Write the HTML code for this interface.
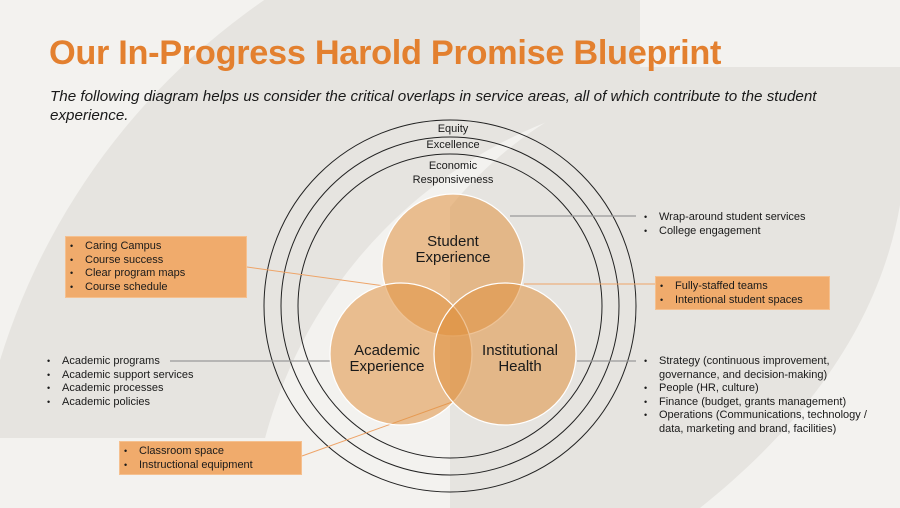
<!DOCTYPE html>
<html><head><meta charset="utf-8"><style>
html,body{margin:0;padding:0}
body{width:900px;height:508px;overflow:hidden;position:relative;background:#f3f2ef;font-family:"Liberation Sans",sans-serif;color:#1a1a1a}
svg{position:absolute;left:0;top:0}
.t{position:absolute;white-space:nowrap}
ul{margin:0;padding:0;list-style:none}
li{position:relative;padding-left:19px;font-size:11px;line-height:13.6px}
li:before{content:"•";position:absolute;left:4px;top:0;font-size:9px}
.box{position:absolute;background:#f0ab6c;border:1px solid #f5c08f;box-sizing:border-box}
</style></head><body>
<svg width="900" height="508" viewBox="0 0 900 508">
<defs>
<clipPath id="ca"><rect x="0" y="0" width="640" height="438"/></clipPath>
<clipPath id="cb2"><rect x="450" y="67" width="450" height="441"/></clipPath>
</defs>
<circle cx="650" cy="560" r="680" fill="#e6e4e0" clip-path="url(#ca)"/>
<circle cx="720" cy="560" r="471" fill="#f3f2ef"/>
<circle cx="760" cy="460" r="400" fill="#e6e4e0" clip-path="url(#cb2)"/>
<rect x="640" y="67" width="260" height="441" fill="#e6e4e0"/>
<path d="M900,205 C880,320 810,420 700,508 L900,508 Z" fill="#f3f2ef"/>
<g fill="none" stroke="#222" stroke-width="1">
<circle cx="450" cy="306" r="186"/>
<circle cx="450" cy="306" r="169"/>
<circle cx="450" cy="306" r="152"/>
</g>
<g stroke="#999" stroke-width="1.2">
<line x1="510" y1="216" x2="636" y2="216"/>
<line x1="170" y1="361" x2="330" y2="361"/>
<line x1="577" y1="361" x2="636" y2="361"/>
</g>
<g stroke="#eea468" stroke-width="1">
<line x1="247" y1="267" x2="385" y2="286"/>
<line x1="524" y1="284" x2="655" y2="284"/>
<line x1="455" y1="401" x2="302" y2="456"/>
</g>
<g stroke="#fff" stroke-width="1.2" fill="#e0923f" fill-opacity="0.55">
<circle cx="453" cy="265" r="71"/>
<circle cx="401" cy="354" r="71"/>
<circle cx="505" cy="354" r="71"/>
</g>
</svg>
<div class="t" style="left:49px;top:34px;font-size:34.3px;font-weight:bold;color:#e3802f;letter-spacing:-0.3px">Our In-Progress Harold Promise Blueprint</div>
<div class="t" style="left:50px;top:88px;font-size:15.2px;font-style:italic;line-height:18.5px">The following diagram helps us consider the critical overlaps in service areas, all of which contribute to the student<br>experience.</div>
<div class="t" style="left:400px;top:123px;width:106px;text-align:center;font-size:11px">Equity</div>
<div class="t" style="left:400px;top:139px;width:106px;text-align:center;font-size:11px">Excellence</div>
<div class="t" style="left:390px;top:159px;width:126px;text-align:center;font-size:11px;line-height:14px">Economic<br>Responsiveness</div>
<div class="t" style="left:393px;top:234px;width:120px;text-align:center;font-size:15px;line-height:16px">Student<br>Experience</div>
<div class="t" style="left:327px;top:343px;width:120px;text-align:center;font-size:15px;line-height:16px">Academic<br>Experience</div>
<div class="t" style="left:460px;top:343px;width:120px;text-align:center;font-size:15px;line-height:16px">Institutional<br>Health</div>
<div class="box" style="left:65px;top:236px;width:182px;height:62px;padding-top:3px"><ul><li>Caring Campus</li><li>Course success</li><li>Clear program maps</li><li>Course schedule</li></ul></div>
<div class="box" style="left:655px;top:276px;width:175px;height:34px;padding-top:3px"><ul><li>Fully-staffed teams</li><li>Intentional student spaces</li></ul></div>
<div class="box" style="left:119px;top:441px;width:183px;height:34px;padding-top:3px"><ul><li>Classroom space</li><li>Instructional equipment</li></ul></div>
<div class="t" style="left:640px;top:211px"><ul><li>Wrap-around student services</li><li>College engagement</li></ul></div>
<div class="t" style="left:43px;top:355px"><ul><li>Academic programs</li><li>Academic support services</li><li>Academic processes</li><li>Academic policies</li></ul></div>
<div class="t" style="left:640px;top:355px"><ul><li>Strategy (continuous improvement,<br>governance, and decision-making)</li><li>People (HR, culture)</li><li>Finance (budget, grants management)</li><li>Operations (Communications, technology /<br>data, marketing and brand, facilities)</li></ul></div>
</body></html>
